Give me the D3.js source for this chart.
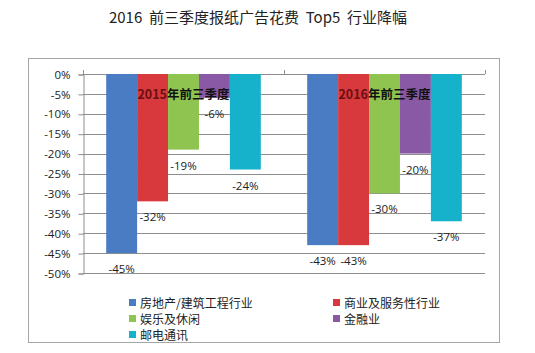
<!DOCTYPE html>
<html>
<head>
<meta charset="utf-8">
<script src="https://cdn.jsdelivr.net/npm/d3@7"></script>
<style>
  html, body { margin: 0; padding: 0; background: #fff; }
  svg { display: block; }
</style>
</head>
<body>
<div id="chart"></div>
<script>
// Chart data
const periods = ['2015年前三季度', '2016年前三季度'];
const industries = ['房地产/建筑工程行业', '商业及服务性行业', '娱乐及休闲', '金融业', '邮电通讯'];
const values2015 = [-45, -32, -19, -6, -24];
const values2016 = [-43, -43, -30, -20, -37];
const yTicks = [0, -5, -10, -15, -20, -25, -30, -35, -40, -45, -50];
const colors = ['#4a7cc3', '#d7393d', '#8fc450', '#8a59a6', '#16b2cb'];

const width = 535, height = 353;
const margin = { top: 74, left: 83, right: 50, bottom: 80 };

const svg = d3.select('#chart').append('svg')
    .attr('width', width)
    .attr('height', height);

// Title
svg.append('text')
    .attr('x', 258).attr('y', 23)
    .attr('text-anchor', 'middle')
    .attr('font-family', "'Noto Sans CJK SC', sans-serif")
    .attr('font-size', 15)
    .attr('fill', '#222')
    .style('white-space', 'pre')
    .text('2016  前三季度报纸广告花费  Top5  行业降幅');

// Frame
svg.append('rect')
    .attr('x', 28.5).attr('y', 58.5)
    .attr('width', 471).attr('height', 284)
    .attr('fill', 'none')
    .attr('stroke', '#a6a6a6');

const x0 = d3.scaleBand().domain(periods).range([margin.left, 485]);
const x1 = d3.scaleBand().domain(industries).range([0, x0.bandwidth()]).paddingOuter(0.75);
const y = d3.scaleLinear().domain([0, -50]).range([74, 273]);

// Gridlines
svg.append('g')
    .selectAll('line').data(yTicks).enter().append('line')
    .attr('x1', margin.left).attr('x2', 485)
    .attr('y1', d => Math.round(y(d)) + 0.5).attr('y2', d => Math.round(y(d)) + 0.5)
    .attr('stroke', '#8e8e8e');

// Y axis
const yAxis = svg.append('g')
    .attr('transform', `translate(${margin.left + 0.5},0.5)`)
    .call(d3.axisLeft(y).tickValues(yTicks).tickSize(5).tickPadding(8).tickFormat(d => d + '%'));
yAxis.select('.domain').attr('stroke', '#8e8e8e');
yAxis.selectAll('.tick line').attr('stroke', '#8e8e8e');
yAxis.selectAll('text')
    .attr('font-family', "'Open Sans', sans-serif")
    .attr('font-size', 11.5)
    .attr('fill', '#222');

// Category ticks at top
const bounds = [margin.left, x0(periods[1]), 485];
svg.append('g').selectAll('line').data(bounds).enter().append('line')
    .attr('x1', d => Math.round(d) + 0.5).attr('x2', d => Math.round(d) + 0.5)
    .attr('y1', 70).attr('y2', 74)
    .attr('stroke', '#8e8e8e');

// Bars
const series = [values2015, values2016];
const groups = svg.append('g').selectAll('g').data(periods).enter().append('g')
    .attr('transform', d => `translate(${x0(d)},0)`);

groups.selectAll('rect')
    .data((p, i) => industries.map((ind, j) => ({ ind, v: series[i][j], c: colors[j] })))
    .enter().append('rect')
    .attr('x', d => x1(d.ind))
    .attr('width', x1.bandwidth())
    .attr('y', y(0))
    .attr('height', d => y(d.v) - y(0))
    .attr('fill', d => d.c);

// Value labels
groups.selectAll('text.val')
    .data((p, i) => industries.map((ind, j) => ({ ind, v: series[i][j] })))
    .enter().append('text')
    .attr('class', 'val')
    .attr('x', d => x1(d.ind) + x1.bandwidth() / 2)
    .attr('y', d => y(d.v) + 20)
    .attr('text-anchor', 'middle')
    .attr('font-family', "'Open Sans', sans-serif")
    .attr('font-size', 11.5)
    .attr('fill', '#222')
    .text(d => d.v + '%');

// Period labels inside plot
const pl = groups.append('text')
    .attr('x', x0.bandwidth() / 2)
    .attr('y', 99)
    .attr('text-anchor', 'middle')
    .attr('font-family', "'Noto Sans CJK SC', sans-serif")
    .attr('font-size', 12.5)
    .attr('font-weight', 'bold');
pl.append('tspan').attr('fill', '#6b0f12').text(d => d.slice(0, 4));
pl.append('tspan').attr('fill', '#111').text(d => d.slice(4));

// Legend
const legendPos = [[129, 303], [333, 303], [129, 319], [333, 319], [129, 335]];
const legend = svg.append('g').selectAll('g').data(industries).enter().append('g')
    .attr('transform', (d, i) => `translate(${legendPos[i][0]},${legendPos[i][1]})`);
legend.append('rect')
    .attr('x', 0).attr('y', -4)
    .attr('width', 7).attr('height', 7)
    .attr('fill', (d, i) => colors[i]);
legend.append('text')
    .attr('x', 11).attr('y', 4.5)
    .attr('font-family', "'Noto Sans CJK SC', sans-serif")
    .attr('font-size', 12)
    .attr('fill', '#222')
    .text(d => d);
</script>
</body>
</html>
